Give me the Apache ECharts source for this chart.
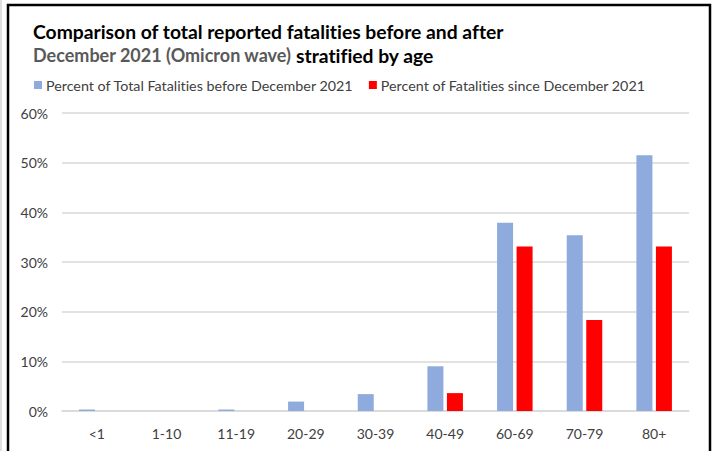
<!DOCTYPE html>
<html>
<head>
<meta charset="utf-8">
<script src="https://cdn.jsdelivr.net/npm/echarts@6/dist/echarts.min.js"></script>
<style>
html,body{margin:0;padding:0;background:#fff;}
#chart{width:713px;height:451px;}
#chart text{font-variant-ligatures:none;}
</style>
</head>
<body>
<div id="chart"></div>
<script>
const categories = ['<1', '1-10', '11-19', '20-29', '30-39', '40-49', '60-69', '70-79', '80+'];
const beforeDec2021 = [0.3, 0, 0.3, 1.9, 3.4, 9.0, 37.9, 35.4, 51.5];
const sinceDec2021 = [0, 0, 0, 0, 0, 3.6, 33.1, 18.3, 33.1];
const seriesNames = ['Percent of Total Fatalities before December 2021', 'Percent of Fatalities since December 2021'];
const yTicks = [0, 10, 20, 30, 40, 50, 60];

const FONT = 'Lato, "Open Sans", sans-serif';
const chart = echarts.init(document.getElementById('chart'), null, {renderer: 'svg'});
chart.setOption({
  animation: false,
  backgroundColor: '#fff',
  textStyle: {fontFamily: FONT},
  title: {
    left: 28, top: 14,
    text: '{b|Comparison of total reported fatalities before and after}\n{g|December 2021 (Omicron wave)} {b|stratified by age}',
    textStyle: {
      rich: {
        b: {fontFamily: FONT, fontWeight: 'bold', fontSize: 19.3, color: '#000', lineHeight: 24},
        g: {fontFamily: FONT, fontWeight: 'bold', fontSize: 18, color: '#595959', lineHeight: 24}
      }
    }
  },
  legend: {
    left: 29, top: 73,
    itemWidth: 8, itemHeight: 8, itemGap: 15,
    icon: 'rect',
    textStyle: {fontFamily: FONT, fontSize: 14.3, color: '#404040', padding: [0, 0, 0, -1]},
    data: seriesNames
  },
  grid: {left: 62, right: 24, top: 113, bottom: 40, containLabel: false},
  xAxis: {
    type: 'category',
    data: categories,
    axisLine: {lineStyle: {color: '#D9D9D9', width: 1.5}},
    axisTick: {show: false},
    axisLabel: {color: '#404040', fontSize: 14, margin: 15, fontFamily: FONT}
  },
  yAxis: {
    type: 'value',
    min: yTicks[0], max: yTicks[yTicks.length - 1], interval: 10,
    axisLine: {show: false},
    axisTick: {show: false},
    splitLine: {lineStyle: {color: '#D9D9D9', width: 1.5}},
    axisLabel: {color: '#404040', fontSize: 14, margin: 14, fontFamily: FONT, formatter: v => v + '%'}
  },
  series: [
    {name: seriesNames[0], type: 'bar', data: beforeDec2021, barWidth: 16, barGap: '22%',
     itemStyle: {color: '#8FAADC'}},
    {name: seriesNames[1], type: 'bar', data: sinceDec2021, barWidth: 16,
     itemStyle: {color: '#FF0000'}}
  ],
  graphic: [
    {type: 'rect', shape: {x: 8, y: 5, width: 702, height: 470}, style: {fill: 'none', stroke: '#000', lineWidth: 2.5}, silent: true},
    {type: 'line', shape: {x1: 1, y1: 0, x2: 1, y2: 451}, style: {stroke: '#BFBFBF', lineWidth: 1}, silent: true}
  ]
});
</script>
</body>
</html>
